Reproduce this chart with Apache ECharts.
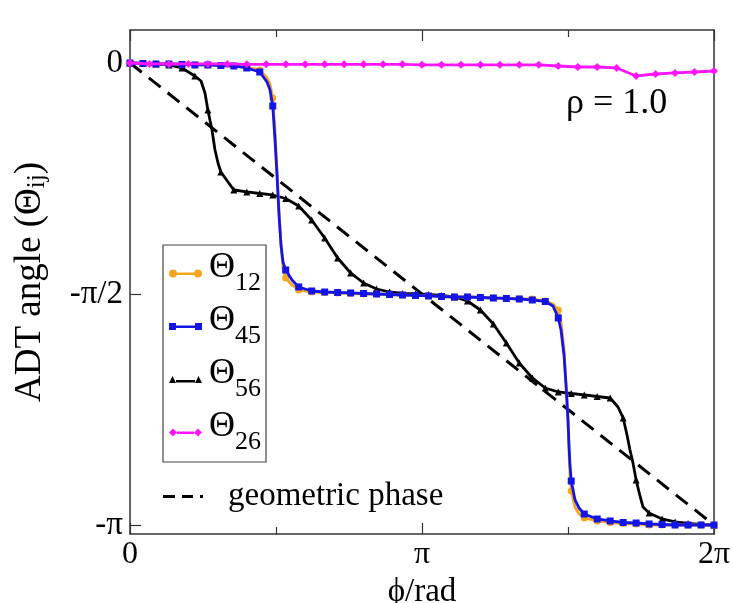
<!DOCTYPE html>
<html>
<head>
<meta charset="utf-8">
<script src="https://cdn.jsdelivr.net/npm/echarts@6/dist/echarts.min.js"></script>
<style>
html,body{margin:0;padding:0;background:#fff;}
#chart{width:733px;height:603px;}
</style>
</head>
<body>
<div id="chart"></div>
<script>
// All angles in units of pi
const xTickValues = [0, 1, 2];
const xTickLabels = ['0', 'π', '2π'];
const yTickValues = [0, -0.5, -1];
const yTickLabels = ['0', '-π/2', '-π'];

// Theta_45 (blue squares)
const phi45 = [0,0.0444,0.0889,0.1333,0.1778,0.2222,0.2667,0.3111,0.3556,0.4,0.4444,0.4692,0.4795,0.4889,0.4966,0.5034,0.5103,0.5171,0.5240,0.5333,0.5548,0.5778,0.6222,0.6667,0.7111,0.7556,0.8,0.8444,0.8889,0.9333,0.9778,1.0222,1.0667,1.1111,1.1556,1.2,1.2444,1.2889,1.3333,1.3778,1.4222,1.4486,1.4667,1.4760,1.4863,1.4932,1.5,1.5034,1.5068,1.5111,1.5240,1.5377,1.5556,1.6,1.6444,1.6889,1.7333,1.7778,1.8222,1.8667,1.9111,1.9556,2.0];
const th45 = [0,-0.0011,-0.0022,-0.0022,-0.0032,-0.0043,-0.0043,-0.0054,-0.0065,-0.0108,-0.0195,-0.0411,-0.0584,-0.0931,-0.1667,-0.2424,-0.3290,-0.3939,-0.4307,-0.4481,-0.4697,-0.4848,-0.4935,-0.4957,-0.4968,-0.4978,-0.4989,-0.5,-0.5011,-0.5022,-0.5032,-0.5043,-0.5054,-0.5065,-0.5065,-0.5076,-0.5087,-0.5097,-0.5108,-0.5130,-0.5162,-0.5260,-0.5519,-0.5779,-0.6320,-0.6970,-0.7727,-0.8268,-0.8701,-0.9048,-0.9459,-0.9632,-0.9762,-0.9870,-0.9913,-0.9946,-0.9957,-0.9978,-0.9989,-1.0,-1.0,-1.0,-1.0];
const mk45 = [1,1,1,1,1,1,1,1,1,1,1,0,0,1,0,0,0,0,0,1,0,1,1,1,1,1,1,1,1,1,1,1,1,1,1,1,1,1,1,1,1,0,1,0,0,0,0,0,0,1,0,0,1,1,1,1,1,1,1,1,1,1,1];

// Theta_12 (orange circles)
const phi12 = phi45;
const th12 = [0,-0.0011,-0.0022,-0.0022,-0.0032,-0.0043,-0.0043,-0.0054,-0.0065,-0.0087,-0.0152,-0.0325,-0.0455,-0.0758,-0.1450,-0.2316,-0.3182,-0.3939,-0.4448,-0.4654,-0.4805,-0.4913,-0.4957,-0.4968,-0.4978,-0.4989,-0.5,-0.5,-0.5011,-0.5022,-0.5032,-0.5043,-0.5054,-0.5065,-0.5065,-0.5076,-0.5087,-0.5097,-0.5108,-0.5108,-0.5152,-0.5216,-0.5346,-0.5606,-0.6191,-0.6926,-0.7727,-0.8398,-0.8918,-0.9264,-0.9610,-0.9762,-0.9848,-0.9913,-0.9946,-0.9968,-0.9978,-1.0,-1.0,-1.0,-1.0,-1.0,-1.0];
const mk12 = mk45;

// Theta_56 (black triangles)
const phi56 = [0,0.0444,0.0889,0.1333,0.1778,0.2222,0.2432,0.2568,0.2667,0.2808,0.2911,0.3014,0.3111,0.3556,0.4,0.4444,0.4889,0.5333,0.5778,0.6222,0.6667,0.7111,0.7556,0.8,0.8444,0.8889,0.9333,0.9778,1.0222,1.0667,1.1111,1.1556,1.2,1.2444,1.2889,1.3333,1.3778,1.4222,1.4667,1.5111,1.5556,1.6,1.6444,1.6712,1.6889,1.7021,1.7123,1.7226,1.7333,1.7466,1.7568,1.7778,1.8222,1.8667,1.9111,1.9556,2.0];
const th56 = [0,-0.0011,-0.0022,-0.0043,-0.0108,-0.0281,-0.0390,-0.0649,-0.1017,-0.1450,-0.1883,-0.2165,-0.2359,-0.2749,-0.2792,-0.2825,-0.2857,-0.2933,-0.3095,-0.3398,-0.3788,-0.4221,-0.4545,-0.4762,-0.4892,-0.4957,-0.4989,-0.5,-0.5011,-0.5032,-0.5065,-0.5152,-0.5346,-0.5649,-0.6061,-0.6494,-0.6818,-0.7035,-0.7121,-0.7154,-0.7186,-0.7219,-0.7251,-0.7446,-0.7684,-0.8052,-0.8377,-0.8658,-0.9026,-0.9372,-0.9610,-0.9740,-0.9870,-0.9935,-0.9968,-0.9989,-1.0];
const mk56 = [1,1,1,1,1,1,0,0,1,0,0,0,1,1,1,1,1,1,1,1,1,1,1,1,1,1,1,1,1,1,1,1,1,1,1,1,1,1,1,1,1,1,1,0,1,0,0,0,1,0,0,1,1,1,1,1,1];

// Theta_26 (magenta diamonds)
const phi26 = [0,0.0667,0.1333,0.2,0.2667,0.3333,0.4,0.4667,0.5333,0.6,0.6667,0.7333,0.8,0.8667,0.9333,1.0,1.0667,1.1333,1.2,1.2667,1.3333,1.4,1.4667,1.5333,1.6,1.6667,1.7333,1.8,1.8667,1.9333,2.0];
const th26 = [0,-0.002,-0.002,-0.002,-0.002,-0.002,-0.003,-0.003,-0.003,-0.003,-0.003,-0.003,-0.003,-0.003,-0.003,-0.004,-0.004,-0.004,-0.004,-0.004,-0.004,-0.004,-0.0065,-0.0087,-0.0087,-0.0108,-0.0281,-0.0238,-0.0216,-0.0195,-0.0173];

// geometric phase (dashed)
const phiGeo = [0, 2];
const thGeo = [0, -1];

const SERIF = '"Liberation Serif", "DejaVu Serif", serif';
const pair = (xs, ys) => xs.map((x, i) => [x, ys[i]]);

function thetaSeries(name, xs, ys, mk, color, symbol, size, z) {
  return {
    name: name, type: 'line', data: pair(xs, ys), z: z,
    symbol: symbol, showSymbol: true, showAllSymbol: true,
    symbolSize: (v, p) => mk[p.dataIndex] ? size : 0,
    lineStyle: { color: color, width: 2.8 },
    itemStyle: { color: color, borderWidth: 0 },
    animation: false, silent: true
  };
}

const chart = echarts.init(document.getElementById('chart'), null, { renderer: 'canvas' });

const axisLineStyle = { color: '#333', width: 1.5 };
const tickStyle = { color: '#333', width: 1.2 };

const option = {
  backgroundColor: '#fff',
  animation: false,
  grid: { left: 130, right: 19, top: 30, bottom: 69, containLabel: false, outerBoundsMode: 'none' },
  xAxis: [
    {
      type: 'value', min: 0, max: 2, interval: 1, position: 'bottom',
      axisLine: { show: true, onZero: false, lineStyle: axisLineStyle },
      axisTick: { show: true, inside: true, length: 11, lineStyle: tickStyle },
      minorTick: { show: true, splitNumber: 2, length: 7, lineStyle: tickStyle },
      splitLine: { show: false },
      axisLabel: {
        show: true, margin: 5, color: '#000', fontFamily: SERIF, fontSize: 32,
        formatter: v => { const i = xTickValues.indexOf(v); return i >= 0 ? xTickLabels[i] : ''; }
      },
      name: 'ϕ/rad', nameLocation: 'middle', nameGap: 29,
      nameTextStyle: { color: '#000', fontFamily: SERIF, fontSize: 33 }
    },
    {
      type: 'value', min: 0, max: 2, interval: 1, position: 'top',
      axisLine: { show: true, onZero: false, lineStyle: axisLineStyle },
      axisTick: { show: true, inside: true, length: 11, lineStyle: tickStyle },
      minorTick: { show: true, splitNumber: 2, length: 7, lineStyle: tickStyle },
      splitLine: { show: false }, axisLabel: { show: false }
    }
  ],
  yAxis: [
    {
      type: 'value', min: -1.0195, max: 0.0714, position: 'left',
      axisLine: { show: true, onZero: false, lineStyle: axisLineStyle },
      axisTick: { show: true, inside: true, length: 11, customValues: yTickValues, lineStyle: tickStyle },
      splitLine: { show: false },
      axisLabel: {
        show: true, margin: 7, color: '#000', fontFamily: SERIF, fontSize: 33, customValues: yTickValues,
        padding: [4, 0, 0, 0],
        formatter: v => { let i = yTickValues.findIndex(t => Math.abs(t - v) < 1e-6); return i >= 0 ? yTickLabels[i] : ''; }
      },
      name: 'ADT angle ({t|Θ}{s|ij})', nameLocation: 'middle', nameGap: 80, nameRotate: 90,
      nameTextStyle: {
        color: '#000', fontFamily: SERIF, fontSize: 37,
        rich: {
          t: { fontFamily: SERIF, fontSize: 37, color: '#000' },
          s: { fontFamily: SERIF, fontSize: 25, color: '#000', verticalAlign: 'bottom', padding: [14, 0, 0, 0] }
        }
      }
    },
    {
      type: 'value', min: -1.0195, max: 0.0714, position: 'right',
      axisLine: { show: true, onZero: false, lineStyle: axisLineStyle },
      axisTick: { show: false },
      splitLine: { show: false }, axisLabel: { show: false }
    }
  ],
  legend: [
    {
      orient: 'vertical', left: 163, top: 245, padding: [5, 5, 6, 6], itemGap: 6,
      itemWidth: 33, itemHeight: 8, selectedMode: false,
      borderColor: '#444', borderWidth: 1.2, backgroundColor: '#fff',
      itemStyle: { borderWidth: 0 },
      data: [
        { name: 'Θ12', icon: 'path://M0,4a4,4 0 1,0 8,0a4,4 0 1,0 -8,0z M8,3h17v2.5h-17z M25,4a4,4 0 1,0 8,0a4,4 0 1,0 -8,0z' },
        { name: 'Θ45', icon: 'path://M0,0.5h7v7h-7z M7,3h19v2.5h-19z M26,0.5h7v7h-7z' },
        { name: 'Θ56', icon: 'path://M0,8L3.5,1L7,8z M7,5h19v2.5h-19z M26,8L29.5,1L33,8z' },
        { name: 'Θ26', icon: 'path://M0,4L4,0L8,4L4,8z M8,3h17v2.5h-17z M25,4L29,0L33,4L29,8z' }
      ],
      formatter: n => '{t|Θ}{s|' + n.slice(1) + '}',
      textStyle: {
        color: '#000', fontFamily: SERIF,
        rich: {
          t: { fontFamily: SERIF, fontSize: 36, lineHeight: 34, color: '#000', padding: [0, 0, 11, 2] },
          s: { fontFamily: SERIF, fontSize: 26, lineHeight: 25, color: '#000', padding: [20, 0, 0, 0] }
        }
      }
    },
    {
      orient: 'vertical', left: 163, top: 480, padding: 0,
      itemWidth: 40, itemHeight: 3, selectedMode: false,
      itemStyle: { borderWidth: 0 },
      data: [{ name: 'geometric phase', icon: 'path://M0,0h12v3h-12z M19,0h11v3h-11z M37,0h3v3h-3z' }],
      textStyle: { color: '#000', fontFamily: SERIF, fontSize: 33, padding: [0, 0, 0, 20] }
    }
  ],
  graphic: [
    {
      type: 'text', left: 566, top: 86, silent: true,
      style: { text: 'ρ = 1.0', fontFamily: SERIF, fontSize: 36, fill: '#000' }
    }
  ],
  series: [
    {
      name: 'geometric phase', type: 'line', data: pair(phiGeo, thGeo), z: 1,
      symbol: 'none', lineStyle: { color: '#000', width: 3, type: [15, 9] },
      itemStyle: { color: '#000' }, silent: true
    },
    thetaSeries('Θ56', phi56, th56, mk56, '#000000', 'triangle', 7, 2),
    thetaSeries('Θ12', phi12, th12, mk12, '#f7a51e', 'circle', 7, 3),
    thetaSeries('Θ45', phi45, th45, mk45, '#1414e6', 'rect', 7, 4),
    thetaSeries('Θ26', phi26, th26, phi26.map(() => 1), '#ff14ff', 'diamond', 8, 5)
  ]
};
chart.setOption(option);
</script>
</body>
</html>
